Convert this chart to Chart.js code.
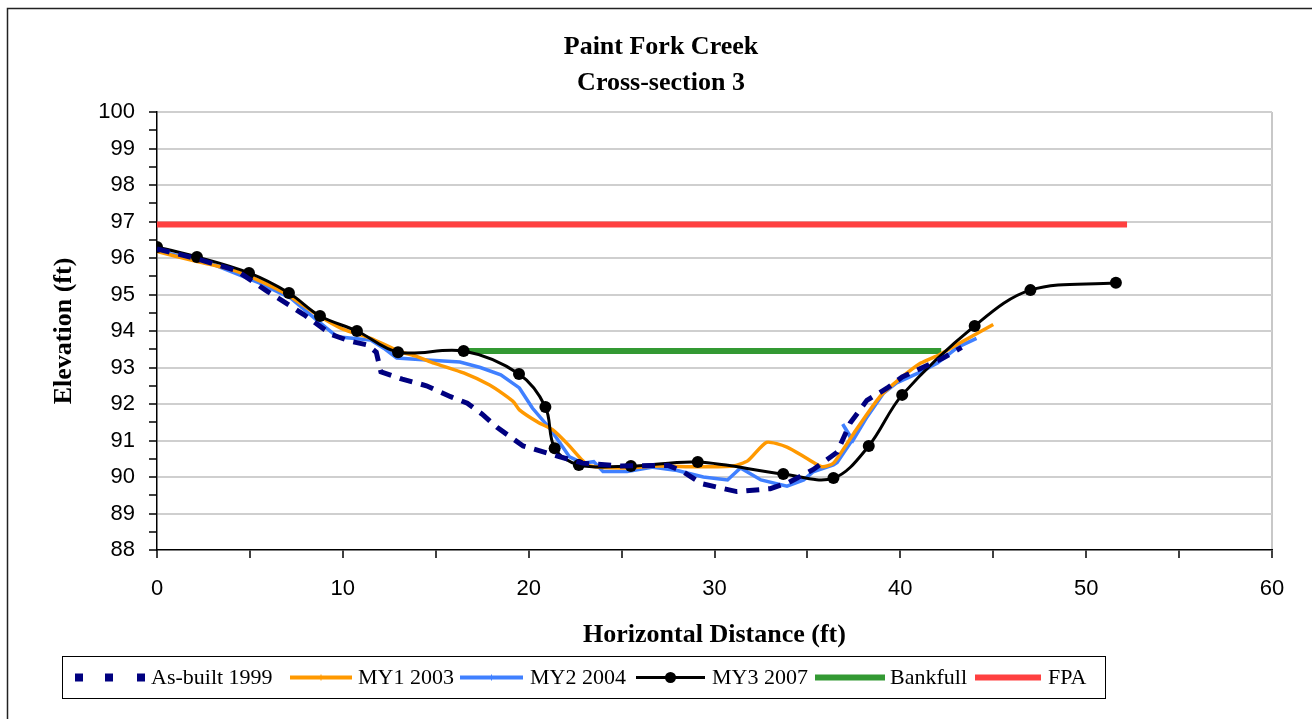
<!DOCTYPE html>
<html>
<head>
<meta charset="utf-8">
<script src="https://cdn.jsdelivr.net/npm/chart.js@4.4.1/dist/chart.umd.min.js"></script>
<style>
  html, body { margin: 0; padding: 0; background: #fff; }
  #wrap { position: relative; width: 1312px; height: 719px; }
</style>
</head>
<body>
<div id="wrap"><canvas id="c" width="1312" height="719"></canvas></div>
<script>
// ---- Data ----
const asBuiltX = [0, 2, 4.3, 5.9, 7.9, 9.4, 10.4, 11.3, 11.8, 12.05, 13.2, 14.5, 15.8, 16.7, 17.5, 18.3, 19.7, 21.5, 22.9, 25, 27.5, 28.3, 29.3, 31.2, 33.0, 34.0, 35.3, 36.6, 37.3, 38.2, 39.3, 40.1, 41.2, 42.3, 43.3];
const asBuiltY = [96.25, 96.0, 95.65, 95.1, 94.45, 93.9, 93.72, 93.62, 93.42, 92.88, 92.68, 92.5, 92.2, 92.02, 91.72, 91.36, 90.85, 90.58, 90.38, 90.3, 90.32, 90.15, 89.82, 89.6, 89.68, 89.85, 90.2, 90.68, 91.48, 92.1, 92.44, 92.74, 93.0, 93.26, 93.55];

const my1X = [0, 2, 4, 5.5, 7, 8.6, 10, 11.5, 13, 14, 14.9, 16.5, 17.9, 18.7, 19.2, 19.5, 20.5, 21.3, 22.1, 22.9, 23.3, 25, 27, 29, 31, 31.8, 32.8, 33.9, 35.0, 35.8, 36.4, 37.5, 38.9, 40, 41.1, 42.1, 43.2, 45.0];
const my1Y = [96.18, 95.92, 95.68, 95.38, 95.0, 94.45, 94.05, 93.8, 93.45, 93.3, 93.12, 92.85, 92.52, 92.25, 92.05, 91.84, 91.5, 91.29, 90.9, 90.45, 90.3, 90.25, 90.3, 90.28, 90.3, 90.45, 90.95, 90.82, 90.5, 90.28, 90.38, 91.2, 92.2, 92.7, 93.12, 93.35, 93.67, 94.18];

const my2X = [0, 2.85, 5.5, 7.2, 8.6, 9.7, 10.5, 11.5, 12.2, 12.9, 14.3, 16.3, 17.4, 18.5, 19.5, 20.2, 21.2, 22.2, 22.9, 23.5, 24.0, 25.3, 26.7, 28.0, 29.4, 30.7, 31.4, 32.5, 33.9, 34.8, 35.3, 36.4, 36.6, 37.4, 36.9, 37.45, 38.2, 39.1, 39.8, 41.1, 42.0, 43.1, 44.1];
const my2Y = [96.2, 95.86, 95.32, 94.9, 94.3, 93.84, 93.8, 93.75, 93.53, 93.26, 93.21, 93.15, 93.0, 92.8, 92.44, 91.89, 91.29, 90.55, 90.38, 90.42, 90.15, 90.15, 90.27, 90.18, 90.0, 89.92, 90.25, 89.92, 89.75, 89.92, 90.14, 90.33, 90.4, 91.0, 91.45, 91.0, 91.64, 92.3, 92.58, 92.88, 93.12, 93.56, 93.8];

const my3X = [0, 2.15, 4.95, 7.1, 8.77, 10.76, 12.97, 16.5, 19.48, 20.9, 21.4, 22.7, 25.5, 29.1, 33.7, 36.4, 38.3, 40.1, 44.0, 47.0, 51.6];
const my3Y = [96.3, 96.03, 95.59, 95.04, 94.41, 94.0, 93.42, 93.45, 92.82, 91.92, 90.79, 90.33, 90.3, 90.41, 90.08, 89.97, 90.85, 92.25, 94.14, 95.12, 95.32];

const bankfullX = [16.5, 42.2];
const bankfullY = [93.45, 93.45];

const fpaX = [0, 52.2];
const fpaY = [96.92, 96.92];

const xTicks = [0, 10, 20, 30, 40, 50, 60];
const yTicks = [88, 89, 90, 91, 92, 93, 94, 95, 96, 97, 98, 99, 100];

const chartTitle = ['Paint Fork Creek', 'Cross-section 3'];
const seriesNames = ['As-built 1999', 'MY1 2003', 'MY2 2004', 'MY3 2007', 'Bankfull', 'FPA'];

// ---- Build chart ----
const pts = (xs, ys) => xs.map((x, i) => ({ x: x, y: ys[i] }));
const SERIF = '"Liberation Serif", "Times New Roman", serif';
const SANS = '"Liberation Sans", Arial, sans-serif';

const COL = {
  asb: '#000080', my1: '#FF9900', my2: '#4080FF', my3: '#000000', bank: '#339933', fpa: '#FF4040'
};

const borderPlugin = {
  id: 'outerBorder',
  beforeDraw(chart) {
    const ctx = chart.ctx;
    ctx.save();
    ctx.fillStyle = '#fff';
    ctx.fillRect(0, 0, chart.width, chart.height);
    ctx.strokeStyle = '#222';
    ctx.lineWidth = 1.5;
    ctx.strokeRect(7.5, 8.5, 1400, 800);
    ctx.restore();
  }
};

const titlePlugin = {
  id: 'twoLineTitle',
  afterDraw(chart) {
    const ctx = chart.ctx;
    ctx.save();
    ctx.fillStyle = '#000';
    ctx.font = 'bold 26px ' + SERIF;
    ctx.textAlign = 'center';
    ctx.textBaseline = 'middle';
    chartTitle.forEach((t, i) => ctx.fillText(t, 661, 47 + i * 36));
    ctx.restore();
  }
};

const legendPlugin = {
  id: 'boxLegend',
  afterDraw(chart) {
    const ctx = chart.ctx;
    const ds = chart.data.datasets;
    ctx.save();
    ctx.strokeStyle = '#000';
    ctx.lineWidth = 1;
    ctx.strokeRect(62.5, 656.5, 1043, 42);
    const cy = 677.5;
    const items = [
      { s: 70, e: 146, t: 151 },
      { s: 290, e: 352, t: 358 },
      { s: 460, e: 523, t: 530 },
      { s: 636, e: 705, t: 712 },
      { s: 815, e: 885, t: 890 },
      { s: 975, e: 1041, t: 1048 }
    ];
    items.forEach((it, i) => {
      const d = ds[i];
      ctx.save();
      if (i === 0) {
        ctx.fillStyle = d.borderColor;
        [75, 105, 137].forEach(x => ctx.fillRect(x, cy - 4, 8, 8));
      } else {
        ctx.strokeStyle = d.borderColor;
        ctx.lineWidth = d.legendWidth;
        ctx.beginPath();
        ctx.moveTo(it.s, cy);
        ctx.lineTo(it.e, cy);
        ctx.stroke();
        const mid = (it.s + it.e) / 2;
        if (i === 1 || i === 2) {
          ctx.lineWidth = 1;
          ctx.beginPath();
          ctx.moveTo(mid, cy - 3);
          ctx.lineTo(mid, cy + 3);
          ctx.stroke();
        }
        if (i === 3) {
          ctx.fillStyle = '#000';
          ctx.beginPath();
          ctx.arc(mid, cy, 5.5, 0, Math.PI * 2);
          ctx.fill();
        }
      }
      ctx.restore();
      ctx.fillStyle = '#000';
      ctx.font = '22px ' + SERIF;
      ctx.textBaseline = 'middle';
      ctx.textAlign = 'left';
      ctx.fillText(d.label, it.t, cy + 1);
    });
    ctx.restore();
  }
};

const chart = new Chart(document.getElementById('c'), {
  type: 'line',
  data: {
    datasets: [
      { label: seriesNames[0], data: pts(asBuiltX, asBuiltY), borderColor: COL.asb, backgroundColor: COL.asb,
        borderWidth: 5, borderDash: [13, 9], pointRadius: 0, tension: 0, order: 0, legendWidth: 5 },
      { label: seriesNames[1], data: pts(my1X, my1Y), borderColor: COL.my1, backgroundColor: COL.my1,
        borderWidth: 3.5, pointRadius: 0, tension: 0.2, order: 2, legendWidth: 4 },
      { label: seriesNames[2], data: pts(my2X, my2Y), borderColor: COL.my2, backgroundColor: COL.my2,
        borderWidth: 3.5, pointRadius: 0, tension: 0, order: 3, legendWidth: 4 },
      { label: seriesNames[3], data: pts(my3X, my3Y), borderColor: COL.my3, backgroundColor: COL.my3,
        borderWidth: 3, pointRadius: 6, pointBorderWidth: 0, pointBackgroundColor: '#000', tension: 0.35, order: 1, legendWidth: 3 },
      { label: seriesNames[4], data: pts(bankfullX, bankfullY), borderColor: COL.bank, backgroundColor: COL.bank,
        borderWidth: 6, pointRadius: 0, tension: 0, order: 4, legendWidth: 6 },
      { label: seriesNames[5], data: pts(fpaX, fpaY), borderColor: COL.fpa, backgroundColor: COL.fpa,
        borderWidth: 6, pointRadius: 0, tension: 0, order: 5, legendWidth: 6 }
    ]
  },
  options: {
    responsive: false,
    animation: false,
    parsing: true,
    layout: { padding: { left: 0, right: 40, top: 112, bottom: 0 } },
    plugins: {
      legend: { display: false },
      tooltip: { enabled: false },
      title: { display: false }
    },
    scales: {
      x: {
        type: 'linear', min: 0, max: 60,
        afterBuildTicks: (s) => {
          const t = [];
          for (let v = 0; v <= 60; v += 5) t.push({ value: v });
          s.ticks = t;
        },
        ticks: {
          autoSkip: false, maxRotation: 0, color: '#000', padding: 18,
          font: { family: SANS, size: 22 },
          callback: (v) => xTicks.includes(v) ? String(v) : ''
        },
        grid: {
          color: (c) => (c.tick && c.tick.value === 60) ? '#c8c8c8' : 'rgba(0,0,0,0)',
          lineWidth: 2, tickColor: '#000', tickLength: 8, tickWidth: 1.5
        },
        border: { color: '#000', width: 1.5 },
        title: {
          display: true, text: 'Horizontal Distance (ft)', color: '#000',
          font: { family: SERIF, size: 26, weight: 'bold' },
          padding: { top: 0, bottom: 68 }
        },
        afterFit: (s) => { s.height = 169; }
      },
      y: {
        type: 'linear', min: 88, max: 100,
        afterBuildTicks: (s) => {
          const t = [];
          for (let v = 88; v <= 100.001; v += 0.5) t.push({ value: Math.round(v * 10) / 10 });
          s.ticks = t;
        },
        ticks: {
          autoSkip: false, color: '#000', padding: 14,
          font: { family: SANS, size: 22 },
          callback: (v) => yTicks.includes(v) ? String(v) : ''
        },
        grid: {
          color: (c) => (c.tick && Number.isInteger(c.tick.value) && c.tick.value !== 88) ? '#cfcfcf' : 'rgba(0,0,0,0)',
          lineWidth: 2, tickColor: '#000', tickLength: 8, tickWidth: 1.5
        },
        border: { color: '#000', width: 1.5 },
        title: {
          display: true, text: 'Elevation (ft)', color: '#000',
          font: { family: SERIF, size: 26, weight: 'bold' },
          padding: { top: 49, bottom: 0 }
        },
        afterFit: (s) => { s.width = 157; }
      }
    }
  },
  plugins: [borderPlugin, titlePlugin, legendPlugin]
});
</script>
</body>
</html>
